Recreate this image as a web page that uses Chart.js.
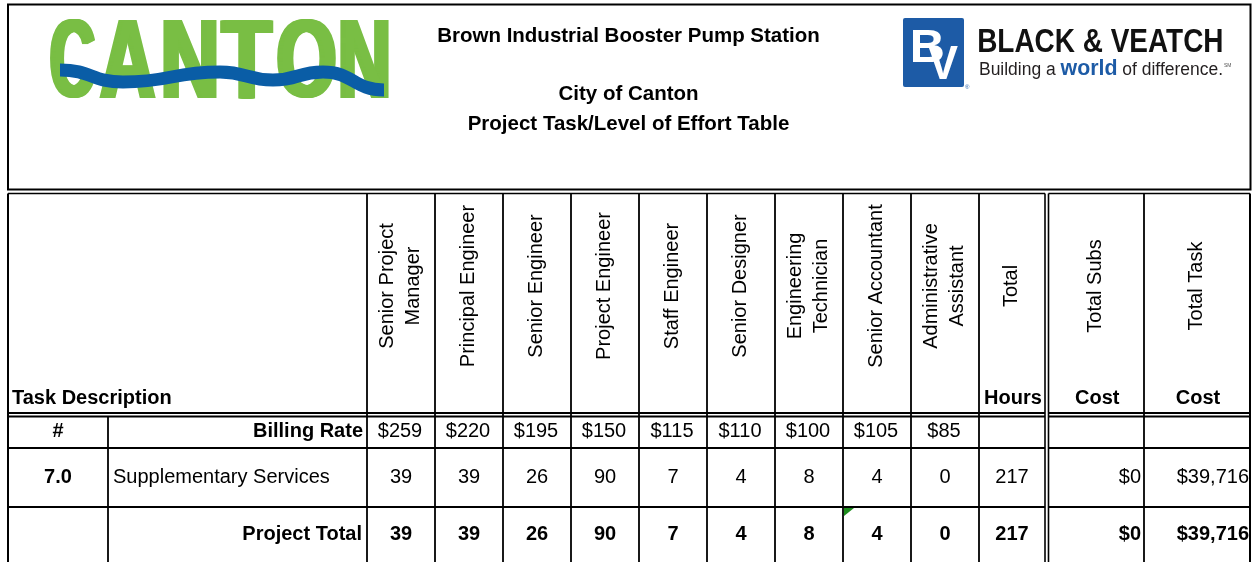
<!DOCTYPE html>
<html>
<head>
<meta charset="utf-8">
<script src="https://cdn.jsdelivr.net/npm/chart.js@4.4.1/dist/chart.umd.min.js"></script>
<style>
    html, body { margin: 0; padding: 0; background: #fff; }
    #wrap { width: 1254px; height: 562px; }
</style>
</head>
<body>
<div id="wrap"><canvas id="effortTable"></canvas></div>
<script>
// --- table data ---
var titleLines = ['Brown Industrial Booster Pump Station', 'City of Canton', 'Project Task/Level of Effort Table'];
var laborRoles = [
    ['Senior Project', 'Manager'],
    ['Principal Engineer'],
    ['Senior Engineer'],
    ['Project Engineer'],
    ['Staff Engineer'],
    ['Senior Designer'],
    ['Engineering', 'Technician'],
    ['Senior Accountant'],
    ['Administrative', 'Assistant']
];
var billingRates = [259, 220, 195, 150, 115, 110, 100, 105, 85];
var taskNumbers = ['7.0'];
var taskNames = ['Supplementary Services'];
var taskHours = [
    [39, 39, 26, 90, 7, 4, 8, 4, 0]
];
var taskTotalHours = [217];
var taskSubsCost = [0];
var taskTotalCost = [39716];

// --- layout (x / y values on the chart's linear scales) ---
var FONT = '"Liberation Sans", Arial, sans-serif';
var xLeft = 8, xNum = 108, xDesc = 367, laborWidth = 68;
var xHoursR = 1045, xSubsL = 1048.5, xSubsR = 1144, xRight = 1250;
var yHeadTop = 193.5, yHeadBot = 413, yRateTop = 416.5, yRateBot = 448, taskRowH = 59, yEnd = 566;

function money(v) {
    return '$' + v.toLocaleString('en-US');
}

// stretch a string into a box using its real ink bounds
function fitText(ctx, str, font, x0, x1, yTop, yBot) {
    ctx.save();
    ctx.font = font;
    ctx.textAlign = 'left';
    ctx.textBaseline = 'alphabetic';
    var m = ctx.measureText(str);
    var l = -m.actualBoundingBoxLeft, r = m.actualBoundingBoxRight;
    var t = -m.actualBoundingBoxAscent, b = m.actualBoundingBoxDescent;
    ctx.translate(x0, yTop);
    ctx.scale((x1 - x0) / (r - l), (yBot - yTop) / (b - t));
    ctx.fillText(str, -l, -t);
    ctx.restore();
}

var tablePlugin = {
    id: 'effortTable',
    beforeDraw: function (chart) {
        var ctx = chart.ctx;
        ctx.save();
        ctx.fillStyle = '#fff';
        ctx.fillRect(0, 0, chart.width, chart.height);
        ctx.restore();
    },
    afterDraw: function (chart) {
        var ctx = chart.ctx;
        var sx = chart.scales.x, sy = chart.scales.y;
        function X(v) { return sx.getPixelForValue(v); }
        function Y(v) { return sy.getPixelForValue(v); }
        function line(x1, y1, x2, y2, w) {
            ctx.beginPath();
            ctx.lineWidth = w;
            ctx.strokeStyle = '#000';
            ctx.moveTo(X(x1), Y(y1));
            ctx.lineTo(X(x2), Y(y2));
            ctx.stroke();
        }
        function text(str, x, y, align, bold) {
            ctx.font = (bold ? 'bold ' : '') + '20px ' + FONT;
            ctx.textAlign = align;
            ctx.textBaseline = 'alphabetic';
            ctx.fillStyle = '#000';
            ctx.fillText(str, X(x), Y(y));
        }

        ctx.save();

        // ---------- banner ----------
        ctx.lineWidth = 2;
        ctx.strokeStyle = '#000';
        ctx.strokeRect(X(xLeft), Y(4.5), X(xRight + 0.5) - X(xLeft), Y(189.5) - Y(4.5));

        ctx.fillStyle = '#000';
        ctx.font = 'bold 20.5px ' + FONT;
        ctx.textAlign = 'center';
        ctx.fillText(titleLines[0], X(628.5), Y(41.5));
        ctx.fillText(titleLines[1], X(628.5), Y(100));
        ctx.fillText(titleLines[2], X(628.5), Y(129.5));

        // CANTON logo (letters smeared sideways a little to get the heavy strokes)
        var green = '#79BE44';
        var logoFont = 'bold 100px ' + FONT;
        ctx.fillStyle = green;
        var letters = [['C', 50, 96], ['A', 99, 156], ['N', 163, 217], ['T', 220, 274], ['O', 277, 336], ['N', 340, 389]];
        var smear = 5;
        letters.forEach(function (l) {
            for (var d = 0; d <= smear; d++) {
                fitText(ctx, l[0], logoFont, X(l[1] + d), X(l[2] - smear + d), Y(19), Y(98));
            }
        });
        var wave = [[60, 70], [123, 82], [220, 72], [273, 80], [323, 72], [384, 90]];
        ctx.beginPath();
        ctx.moveTo(X(wave[0][0]), Y(wave[0][1]));
        for (var i = 1; i < wave.length; i++) {
            var p0 = wave[i - 1], p1 = wave[i], mx = (p0[0] + p1[0]) / 2;
            ctx.bezierCurveTo(X(mx), Y(p0[1]), X(mx), Y(p1[1]), X(p1[0]), Y(p1[1]));
        }
        ctx.lineWidth = 13;
        ctx.lineCap = 'butt';
        ctx.strokeStyle = '#0A5DA6';
        ctx.stroke();

        // Black & Veatch logo
        var bvBlue = '#1D5BA6';
        ctx.fillStyle = bvBlue;
        ctx.beginPath();
        ctx.roundRect(X(903), Y(18), X(964) - X(903), Y(87) - Y(18), 2);
        ctx.fill();
        ctx.fillStyle = '#fff';
        fitText(ctx, 'B', 'bold 60px ' + FONT, X(913), X(943), Y(31), Y(62));
        fitText(ctx, 'V', 'bold 60px ' + FONT, X(928), X(958), Y(46), Y(79));
        ctx.fillStyle = bvBlue;
        ctx.font = '6px ' + FONT;
        ctx.textAlign = 'left';
        ctx.fillText('\u00AE', X(965), Y(89));

        ctx.fillStyle = '#111';
        fitText(ctx, 'BLACK & VEATCH', 'bold 30px ' + FONT, X(979), X(1222), Y(30), Y(52));

        var tag = [['Building a ', '18px ', '#231F20'], ['world', 'bold 22px ', bvBlue], [' of difference.', '18px ', '#231F20']];
        var natural = 0;
        tag.forEach(function (s) { ctx.font = s[1] + FONT; natural += ctx.measureText(s[0]).width; });
        ctx.save();
        ctx.translate(X(979), Y(75));
        ctx.scale((X(1223) - X(979)) / natural, 1);
        var cx = 0;
        tag.forEach(function (s) {
            ctx.font = s[1] + FONT;
            ctx.fillStyle = s[2];
            ctx.fillText(s[0], cx, 0);
            cx += ctx.measureText(s[0]).width;
        });
        ctx.restore();
        ctx.fillStyle = '#555';
        ctx.font = '5px ' + FONT;
        ctx.fillText('SM', X(1224), Y(67));

        // ---------- table grid ----------
        var laborEdges = [];
        for (var c = 0; c <= laborRoles.length; c++) laborEdges.push(xDesc + c * laborWidth);
        var yTaskTop = yRateBot;
        var yTotalTop = yTaskTop + taskRowH * taskNames.length;

        var hRows = [yHeadTop, yHeadBot, yRateTop, yRateBot];
        for (var r = 1; r <= taskNames.length; r++) hRows.push(yTaskTop + r * taskRowH);
        hRows.forEach(function (y, k) {
            var w = (k === 0) ? 1.5 : 1.8;
            line(xLeft, y, xHoursR, y, w);
            line(xSubsL, y, xRight, y, w);
        });

        line(xLeft, yHeadTop, xLeft, yEnd, 2);
        line(xNum, yRateTop, xNum, yEnd, 1.8);
        laborEdges.forEach(function (x) { line(x, yHeadTop, x, yEnd, 1.8); });
        line(xHoursR, yHeadTop, xHoursR, yEnd, 1.6);
        line(xSubsL, yHeadTop, xSubsL, yEnd, 1.6);
        line(xSubsR, yHeadTop, xSubsR, yEnd, 1.8);
        line(xRight, yHeadTop, xRight, yEnd, 2);

        // ---------- header row ----------
        var capH = 14.3, rotMid = 286, lineGap = 26;
        function rotated(lines, colCenter) {
            ctx.save();
            ctx.translate(X(colCenter - 2), Y(rotMid));
            ctx.rotate(-Math.PI / 2);
            ctx.font = '20px ' + FONT;
            ctx.textAlign = 'center';
            ctx.textBaseline = 'alphabetic';
            ctx.fillStyle = '#000';
            lines.forEach(function (s, i) {
                var off = (i - (lines.length - 1) / 2) * lineGap;
                ctx.fillText(s, 0, off + capH / 2);
            });
            ctx.restore();
        }
        laborRoles.forEach(function (role, i) {
            rotated(role, laborEdges[i] + laborWidth / 2);
        });
        var hoursMid = (laborEdges[laborEdges.length - 1] + xHoursR) / 2;
        var subsMid = (xSubsL + xSubsR) / 2;
        var taskMid = (xSubsR + xRight) / 2;
        rotated(['Total'], hoursMid);
        rotated(['Total Subs'], subsMid);
        rotated(['Total Task'], taskMid);

        text('Task Description', 12, 404, 'left', true);
        text('Hours', hoursMid + 1, 404, 'center', true);
        text('Cost', subsMid + 1, 404, 'center', true);
        text('Cost', taskMid + 1, 404, 'center', true);

        // ---------- billing rate row ----------
        var numMid = (xLeft + xNum) / 2;
        text('#', numMid, 437, 'center', true);
        text('Billing Rate', 363, 437, 'right', true);
        billingRates.forEach(function (v, i) {
            text(money(v), laborEdges[i] + laborWidth / 2 - 1, 437, 'center', false);
        });

        // ---------- task rows ----------
        taskNames.forEach(function (name, t) {
            var base = yTaskTop + t * taskRowH + 35;
            text(taskNumbers[t], numMid, base, 'center', true);
            text(name, 113, base, 'left', false);
            taskHours[t].forEach(function (h, i) {
                text(String(h), laborEdges[i] + laborWidth / 2, base, 'center', false);
            });
            text(String(taskTotalHours[t]), hoursMid, base, 'center', false);
            text(money(taskSubsCost[t]), xSubsR - 3, base, 'right', false);
            text(money(taskTotalCost[t]), xRight - 1, base, 'right', false);
        });

        // ---------- project total row ----------
        var totBase = yTotalTop + 33;
        function colSum(arr) { return arr.reduce(function (a, b) { return a + b; }, 0); }
        text('Project Total', 362, totBase, 'right', true);
        laborRoles.forEach(function (r, i) {
            var s = colSum(taskHours.map(function (row) { return row[i]; }));
            text(String(s), laborEdges[i] + laborWidth / 2, totBase, 'center', true);
        });
        text(String(colSum(taskTotalHours)), hoursMid, totBase, 'center', true);
        text(money(colSum(taskSubsCost)), xSubsR - 3, totBase, 'right', true);
        text(money(colSum(taskTotalCost)), xRight - 1, totBase, 'right', true);

        // comment marker in the sheet
        var ex = laborEdges[7] + 1, ey = yTotalTop + 1;
        ctx.beginPath();
        ctx.moveTo(X(ex), Y(ey));
        ctx.lineTo(X(ex + 10), Y(ey));
        ctx.lineTo(X(ex), Y(ey + 8));
        ctx.closePath();
        ctx.fillStyle = '#1E8C1E';
        ctx.fill();

        ctx.restore();
    }
};

var ctxEffortTable = document.getElementById('effortTable').getContext('2d');
var effortTable = new Chart(ctxEffortTable, {
    type: 'scatter',
    data: { datasets: [] },
    plugins: [tablePlugin],
    options: {
        responsive: true,
        maintainAspectRatio: false,
        devicePixelRatio: 1,
        animation: false,
        layout: { padding: 0 },
        plugins: {
            legend: { display: false },
            tooltip: { enabled: false },
            title: { display: false }
        },
        scales: {
            x: { type: 'linear', min: 0, max: 1254, display: false },
            y: { type: 'linear', min: 0, max: 562, reverse: true, display: false }
        }
    }
});
</script>
</body>
</html>
